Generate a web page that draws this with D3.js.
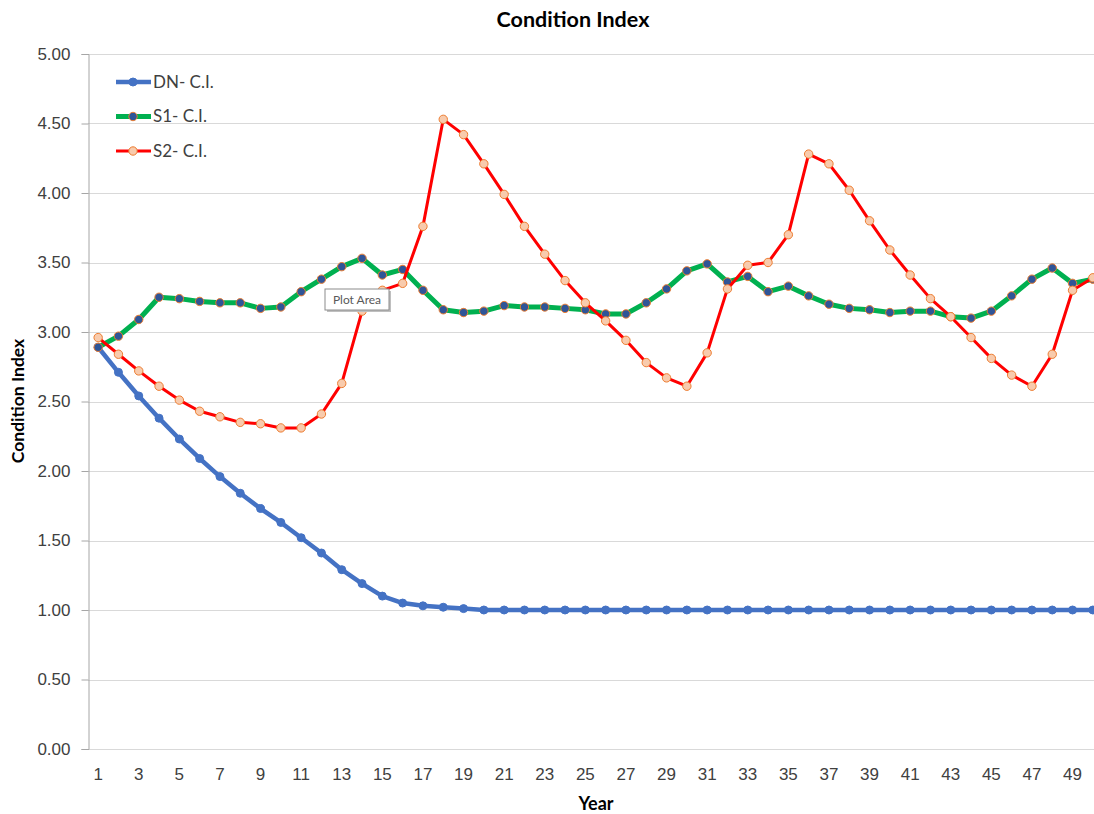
<!DOCTYPE html>
<html>
<head>
<meta charset="utf-8">
<script src="https://cdn.jsdelivr.net/npm/d3@7"></script>
<style>
	body { margin: 0; background: #fff; }
	svg { display: block; font-family: Lato, "Open Sans", sans-serif; }
</style>
</head>
<body>
<div id="chart"></div>
<script>
// Data
var years = d3.range(1, 51);
var dnValues = [2.89, 2.71, 2.54, 2.38, 2.23, 2.09, 1.96, 1.84, 1.73, 1.63,
	1.52, 1.41, 1.29, 1.19, 1.10, 1.05, 1.03, 1.02, 1.01, 1.00,
	1.00, 1.00, 1.00, 1.00, 1.00, 1.00, 1.00, 1.00, 1.00, 1.00,
	1.00, 1.00, 1.00, 1.00, 1.00, 1.00, 1.00, 1.00, 1.00, 1.00,
	1.00, 1.00, 1.00, 1.00, 1.00, 1.00, 1.00, 1.00, 1.00, 1.00];
var s1Values = [2.89, 2.97, 3.09, 3.25, 3.24, 3.22, 3.21, 3.21, 3.17, 3.18,
	3.29, 3.38, 3.47, 3.53, 3.41, 3.45, 3.30, 3.16, 3.14, 3.15,
	3.19, 3.18, 3.18, 3.17, 3.16, 3.13, 3.13, 3.21, 3.31, 3.44,
	3.49, 3.36, 3.40, 3.29, 3.33, 3.26, 3.20, 3.17, 3.16, 3.14,
	3.15, 3.15, 3.11, 3.10, 3.15, 3.26, 3.38, 3.46, 3.35, 3.38];
var s2Values = [2.96, 2.84, 2.72, 2.61, 2.51, 2.43, 2.39, 2.35, 2.34, 2.31,
	2.31, 2.41, 2.63, 3.15, 3.30, 3.35, 3.76, 4.53, 4.42, 4.21,
	3.99, 3.76, 3.56, 3.37, 3.21, 3.08, 2.94, 2.78, 2.67, 2.61,
	2.85, 3.31, 3.48, 3.50, 3.70, 4.28, 4.21, 4.02, 3.80, 3.59,
	3.41, 3.24, 3.11, 2.96, 2.81, 2.69, 2.61, 2.84, 3.30, 3.39];
var yTicks = [0, 0.5, 1, 1.5, 2, 2.5, 3, 3.5, 4, 4.5, 5];
var seriesNames = ["DN- C.I.", "S1- C.I.", "S2- C.I."];

var series = [
	{name: seriesNames[0], values: dnValues, stroke: "#4472C4", width: 4.5, fill: "#4472C4", mstroke: "#4472C4", r: 4},
	{name: seriesNames[1], values: s1Values, stroke: "#00B050", width: 5, fill: "#2F5597", mstroke: "#ED7D31", r: 4.2},
	{name: seriesNames[2], values: s2Values, stroke: "#FF0000", width: 3, fill: "#F8CBAD", mstroke: "#ED7D31", r: 4.2}
];

var width = 1094, height = 814;
var plotLeft = 88, plotTop = 54, plotBottom = 749, band = 20.3;

var svg = d3.select("#chart").append("svg")
		.attr("width", width)
		.attr("height", height);

var x = d3.scaleBand()
		.domain(years)
		.range([plotLeft, plotLeft + band * years.length]);

var y = d3.scaleLinear()
		.domain([0, 5])
		.range([plotBottom, plotTop]);

// Gridlines
svg.append("g").selectAll("line")
	.data(yTicks)
	.enter().append("line")
		.attr("x1", plotLeft)
		.attr("x2", width)
		.attr("y1", function(d) { return Math.round(y(d)) + 0.5; })
		.attr("y2", function(d) { return Math.round(y(d)) + 0.5; })
		.style("stroke", "#D9D9D9")
		.style("stroke-width", 1);

// Y axis
var yAxis = svg.append("g")
		.attr("transform", "translate(" + (plotLeft + 0.5) + ",0)")
		.call(d3.axisLeft(y).tickValues(yTicks).tickFormat(d3.format(".2f")).tickSize(7).tickPadding(11));
yAxis.select(".domain").style("stroke", "#A6A6A6");
yAxis.selectAll(".tick line").style("stroke", "#A6A6A6");
yAxis.selectAll("text")
		.style("font-size", "17px")
		.style("fill", "#404040");

// X axis labels (every other year)
var xAxis = svg.append("g")
		.attr("transform", "translate(0," + plotBottom + ")")
		.call(d3.axisBottom(x).tickValues(years.filter(function(d) { return d % 2 === 1; })).tickSize(0).tickPadding(19));
xAxis.select(".domain").remove();
xAxis.selectAll("text")
		.style("font-size", "17px")
		.style("fill", "#404040");

// Lines and markers
var line = d3.line()
		.x(function(d, i) { return x(years[i]) + x.bandwidth() / 2; })
		.y(function(d) { return y(d); });

var seriesGroup = svg.selectAll(".series")
	.data(series)
	.enter().append("g")
		.attr("class", "series");

seriesGroup.append("path")
		.attr("d", function(d) { return line(d.values); })
		.style("fill", "none")
		.style("stroke", function(d) { return d.stroke; })
		.style("stroke-width", function(d) { return d.width; })
		.style("stroke-linejoin", "round");

seriesGroup.each(function(s) {
	d3.select(this).selectAll("circle")
		.data(s.values)
		.enter().append("circle")
			.attr("cx", function(d, i) { return x(years[i]) + x.bandwidth() / 2; })
			.attr("cy", function(d) { return y(d); })
			.attr("r", s.r)
			.style("fill", s.fill)
			.style("stroke", s.mstroke)
			.style("stroke-width", 1);
});

// Legend
var legend = svg.append("g")
		.attr("transform", "translate(116,82)");
var legendItem = legend.selectAll(".legend-item")
	.data(series)
	.enter().append("g")
		.attr("class", "legend-item")
		.attr("transform", function(d, i) { return "translate(0," + i * 34.5 + ")"; });
legendItem.append("line")
		.attr("x1", 0)
		.attr("x2", 35)
		.style("stroke", function(d) { return d.stroke; })
		.style("stroke-width", function(d) { return d.width; });
legendItem.append("circle")
		.attr("cx", 17)
		.attr("r", function(d) { return d.r; })
		.style("fill", function(d) { return d.fill; })
		.style("stroke", function(d) { return d.mstroke; })
		.style("stroke-width", 1);
legendItem.append("text")
		.attr("x", 37)
		.attr("dy", "0.35em")
		.style("font-size", "17px")
		.style("fill", "#404040")
		.text(function(d) { return d.name; });

// Titles
svg.append("text")
		.attr("x", 573)
		.attr("y", 27)
		.attr("text-anchor", "middle")
		.style("font-size", "21.5px")
		.style("font-weight", "bold")
		.text("Condition Index");

svg.append("text")
		.attr("x", 596)
		.attr("y", 810)
		.attr("text-anchor", "middle")
		.style("font-size", "18px")
		.style("font-weight", "bold")
		.text("Year");

svg.append("text")
		.attr("transform", "translate(24,401) rotate(-90)")
		.attr("text-anchor", "middle")
		.style("font-size", "17.5px")
		.style("font-weight", "bold")
		.text("Condition Index");

// Excel "Plot Area" hover tip seen in the reference
var tip = svg.append("g").attr("transform", "translate(325,289)");
tip.append("rect")
		.attr("x", 2).attr("y", 2)
		.attr("width", 64).attr("height", 21)
		.style("fill", "#BFBFBF");
tip.append("rect")
		.attr("width", 64).attr("height", 21)
		.style("fill", "#fff")
		.style("stroke", "#8C8C8C");
tip.append("text")
		.attr("x", 32).attr("y", 15)
		.attr("text-anchor", "middle")
		.style("font-size", "12px")
		.style("fill", "#595959")
		.text("Plot Area");
</script>
</body>
</html>
